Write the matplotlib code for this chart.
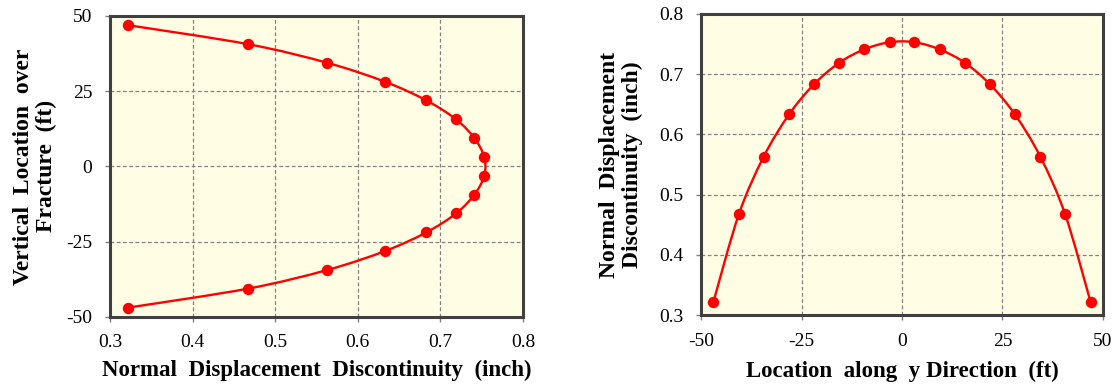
import numpy as np
import matplotlib.pyplot as plt
from matplotlib.path import Path
from matplotlib.patches import PathPatch

plt.rcParams['font.family'] = ['Liberation Serif', 'DejaVu Serif']
plt.rcParams['axes.unicode_minus'] = False

# fracture locations (ft) and normal displacement discontinuity (inch)
location = [-46.9, -40.6, -34.4, -28.1, -21.9, -15.6, -9.4, -3.1,
            3.1, 9.4, 15.6, 21.9, 28.1, 34.4, 40.6, 46.9]
ndd = [0.322, 0.467, 0.563, 0.633, 0.683, 0.719, 0.741, 0.753,
       0.753, 0.741, 0.719, 0.683, 0.633, 0.563, 0.467, 0.322]

depth_ticks = [-50, -25, 0, 25, 50]
ndd_ticks = [0.3, 0.4, 0.5, 0.6, 0.7, 0.8]

red = '#FF0000'
bg = '#FFFEE4'


def smooth_path(xs, ys):
    # Catmull-Rom through the points, written as cubic Bezier segments
    p = np.column_stack([xs, ys]).astype(float)
    p = np.vstack([p[0], p, p[-1]])
    verts = [p[1]]
    codes = [Path.MOVETO]
    for i in range(1, len(p) - 2):
        c1 = p[i] + (p[i + 1] - p[i - 1]) / 6
        c2 = p[i + 1] - (p[i + 2] - p[i]) / 6
        verts += [c1, c2, p[i + 1]]
        codes += [Path.CURVE4] * 3
    return Path(verts, codes)


def style_axes(ax):
    ax.set_facecolor(bg)
    for s in ax.spines.values():
        s.set_color('#404040')
        s.set_linewidth(2.2)
    ax.grid(True, color='#808080', linestyle=(0, (3, 2)), linewidth=0.9)
    ax.set_axisbelow(True)
    ax.tick_params(direction='out', length=3.6, width=1, color='#808080',
                   labelsize=14, pad=9)


fig = plt.figure(figsize=(11.2, 3.87), dpi=100)

# left: displacement vs vertical location
ax1 = fig.add_axes([0.0982, 0.181, 0.3688, 0.778])
style_axes(ax1)
ax1.add_patch(PathPatch(smooth_path(ndd, location), facecolor='none',
                        edgecolor=red, linewidth=1.7, zorder=3))
ax1.plot(ndd, location, 'o', color=red, markersize=7.2, zorder=4)
ax1.set_xlim(0.3, 0.8)
ax1.set_ylim(-50, 50)
ax1.set_xticks(ndd_ticks)
ax1.set_yticks(depth_ticks)
ax1.set_xticklabels([f'{t:g}' for t in ndd_ticks])
ax1.set_xlabel('Normal  Displacement  Discontinuity  (inch)',
               fontsize=16.5, fontweight='bold', labelpad=6)
ax1.set_ylabel('Vertical  Location  over\nFracture  (ft)',
               fontsize=17, fontweight='bold', labelpad=7, linespacing=1.1)

# right: displacement along y direction
ax2 = fig.add_axes([0.6259, 0.186, 0.3589, 0.778])
style_axes(ax2)
ax2.add_patch(PathPatch(smooth_path(location, ndd), facecolor='none',
                        edgecolor=red, linewidth=1.7, zorder=3))
ax2.plot(location, ndd, 'o', color=red, markersize=7.2, zorder=4)
ax2.set_xlim(-50, 50)
ax2.set_ylim(0.3, 0.8)
ax2.set_xticks(depth_ticks)
ax2.set_yticks(ndd_ticks)
ax2.set_yticklabels([f'{t:g}' for t in ndd_ticks])
ax2.set_xlabel('Location  along  y Direction  (ft)',
               fontsize=16.5, fontweight='bold', labelpad=8)
ax2.set_ylabel('Normal  Displacement\nDiscontinuity  (inch)',
               fontsize=17, fontweight='bold', labelpad=12, linespacing=1.1)

fig.savefig('out.png', dpi=100)
